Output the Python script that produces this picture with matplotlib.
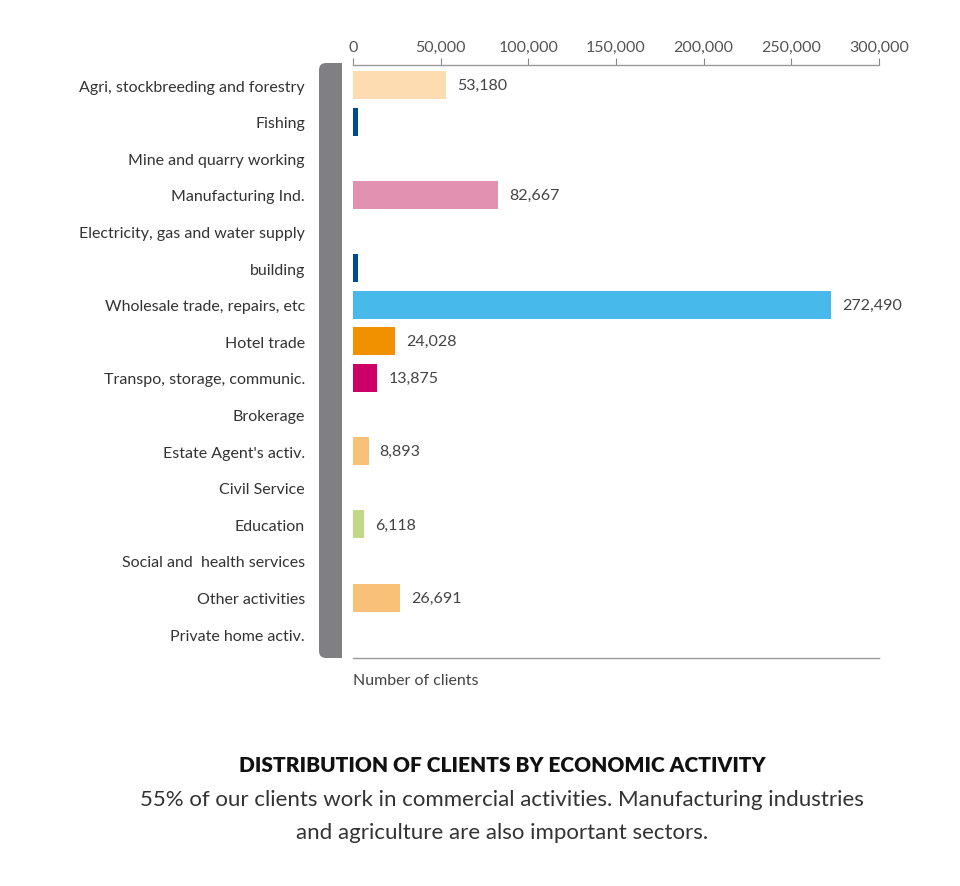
import matplotlib
matplotlib.use("Agg")
import matplotlib.pyplot as plt
from matplotlib.patches import FancyBboxPatch, Rectangle
from matplotlib.transforms import IdentityTransform
import numpy as np

categories = [
    "Agri, stockbreeding and forestry", "Fishing", "Mine and quarry working",
    "Manufacturing Ind.", "Electricity, gas and water supply", "building",
    "Wholesale trade, repairs, etc", "Hotel trade", "Transpo, storage, communic.",
    "Brokerage", "Estate Agent's activ.", "Civil Service", "Education",
    "Social and  health services", "Other activities", "Private home activ.",
]
values = [53180, 2900, 0, 82667, 0, 2900, 272490, 24028, 13875, 0, 8893, 0, 6118, 0, 26691, 0]
value_labels = ["53,180", "", "", "82,667", "", "", "272,490", "24,028", "13,875", "",
                "8,893", "", "6,118", "", "26,691", ""]
colors = ["#fddcb1", "#004b8d", "#ffffff", "#e292b0", "#ffffff", "#004b8d", "#47b9ea",
          "#f29100", "#cc0066", "#ffffff", "#f9c077", "#ffffff", "#c1d987", "#ffffff",
          "#f9c077", "#ffffff"]
xticks = [0, 50000, 100000, 150000, 200000, 250000, 300000]
xtick_labels = ["0", "50,000", "100,000", "150,000", "200,000", "250,000", "300,000"]

FONT = ["Lato", "DejaVu Sans"]
W, H = 960, 887
fig = plt.figure(figsize=(W / 100, H / 100), dpi=100)

left, right, top, bottom = 353, 879, 66, 659
ax = fig.add_axes([left / W, 1 - bottom / H, (right - left) / W, (bottom - top) / H])

y = np.arange(len(categories))
ax.barh(y, values, height=0.77, color=colors, edgecolor="none")
ax.set_xlim(0, 300000)
ax.set_ylim(15.65, -0.55)

for yi, v, lab in zip(y, values, value_labels):
    if lab:
        ax.annotate(lab, (v, yi), xytext=(8, 0), textcoords="offset points",
                    va="center", ha="left", fontsize=11.5, color="#444444", family=FONT)

ax.set_yticks(y)
ax.set_yticklabels(categories, fontsize=11.5, color="#333333", family=FONT)
ax.tick_params(axis="y", length=0, pad=34.5)

ax.xaxis.tick_top()
ax.set_xticks(xticks)
ax.set_xticklabels(xtick_labels, fontsize=11.5, color="#555555", family=FONT)
ax.tick_params(axis="x", direction="out", length=5, width=0.8, color="#888888", pad=3)

for s in ["left", "right"]:
    ax.spines[s].set_visible(False)
for s in ["top", "bottom"]:
    ax.spines[s].set_color("#999999")
    ax.spines[s].set_linewidth(1.0)
ax.spines["top"].set_bounds(0, 300000)
ax.spines["bottom"].set_bounds(0, 300000)

# Gray rounded bracket on the left
gx0, gx1, gy0, gy1 = 319, 342, 64, 659
fig.patches.append(FancyBboxPatch((gx0 + 7, H - gy1 + 7), (gx1 - gx0) - 14, (gy1 - gy0) - 14,
                                  boxstyle="round,pad=7", transform=IdentityTransform(),
                                  facecolor="#808084", edgecolor="none", figure=fig))
fig.patches.append(Rectangle((gx0 + 12, H - gy1), gx1 - gx0 - 12, gy1 - gy0,
                             transform=IdentityTransform(), facecolor="#808084",
                             edgecolor="none", figure=fig))

fig.text(353 / W, 1 - 681 / H, "Number of clients", ha="left", va="center",
         fontsize=11.5, color="#444444", family=FONT)

fig.text(502 / W, 1 - 766 / H, "DISTRIBUTION OF CLIENTS BY ECONOMIC ACTIVITY",
         ha="center", va="center", fontsize=15, fontweight="heavy", color="#111111", family=FONT)
fig.text(502 / W, 1 - 800 / H,
         "55% of our clients work in commercial activities. Manufacturing industries",
         ha="center", va="center", fontsize=16, color="#333333", family=FONT)
fig.text(502 / W, 1 - 833 / H, "and agriculture are also important sectors.",
         ha="center", va="center", fontsize=16, color="#333333", family=FONT)

fig.savefig("out.png", dpi=100)
